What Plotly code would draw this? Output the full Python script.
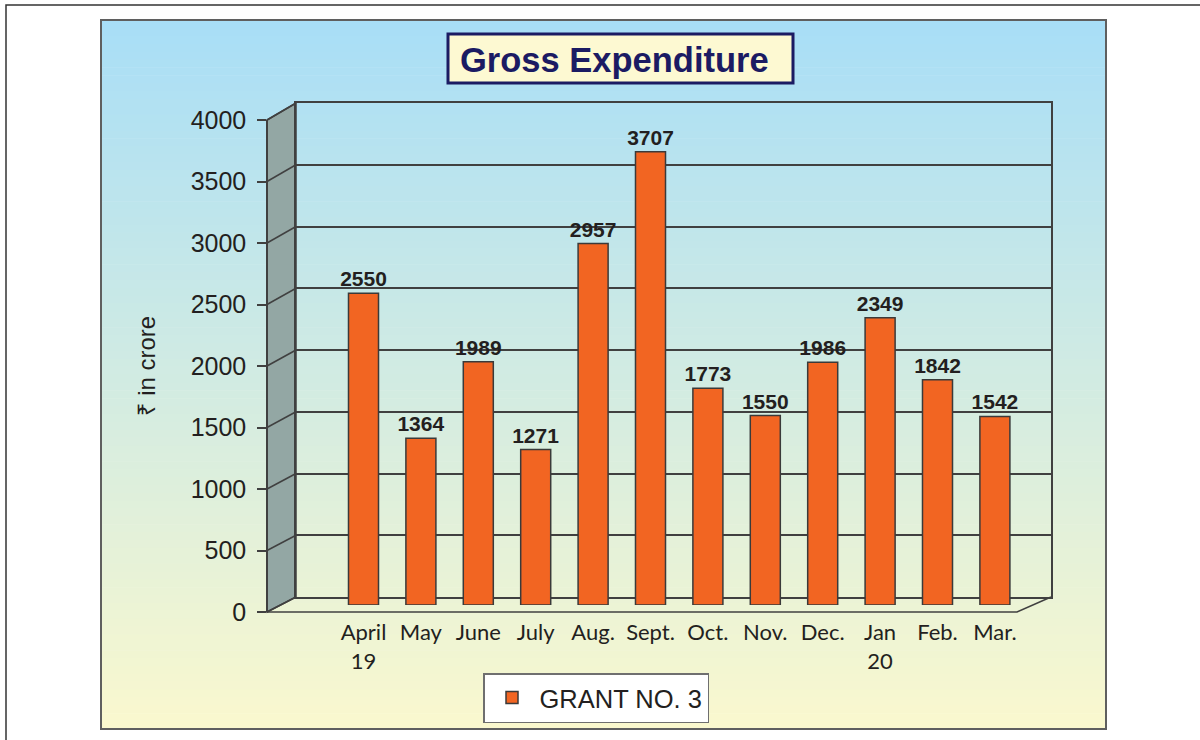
import plotly.graph_objects as go

# ---------------- data ----------------
months = ["April<br>19", "May", "June", "July", "Aug.", "Sept.", "Oct.",
          "Nov.", "Dec.", "Jan<br>20", "Feb.", "Mar."]
expenditure = [2550, 1364, 1989, 1271, 2957, 3707, 1773, 1550, 1986, 2349, 1842, 1542]
y_ticks = [0, 500, 1000, 1500, 2000, 2500, 3000, 3500, 4000]
series_name = "GRANT NO. 3"
title_text = "Gross Expenditure"
y_title = "₹ in crore"

# ---------------- geometry (pixels) ----------------
W, H = 1200, 740
def px(x): return x / W
def py(y): return 1 - y / H

YMAX = 4000
FRONT_X, FRONT_Y0, FRONT_Y1 = 267, 612, 120      # front (tick) axis
BACK_X0, BACK_X1, BACK_Y0, BACK_Y1 = 296, 1051, 597, 103   # back wall
BAR_X0, BAR_X1, BAR_Y0, BAR_Y1 = 334.8, 1023.6, 605, 116   # bar plane
FLOOR_RIGHT = 1017
PANEL = (101, 20, 1106, 729)

def front_y(v): return FRONT_Y0 + (FRONT_Y1 - FRONT_Y0) * v / YMAX
def back_y(v): return BACK_Y0 + (BACK_Y1 - BACK_Y0) * v / YMAX

LINE = "#404040"
BAR_COLOR = "#F26522"
TEXT = "#231F20"

shapes = []
# gradient background of panel
top_c = (168, 222, 247)
bot_c = (250, 248, 206)
n = 90
x0, y0, x1, y1 = PANEL
for i in range(n):
    t = (i + 0.5) / n
    c = tuple(round(top_c[k] + (bot_c[k] - top_c[k]) * t) for k in range(3))
    ya = y0 + (y1 - y0) * i / n
    yb = y0 + (y1 - y0) * (i + 1) / n + 0.6
    shapes.append(dict(type="rect", xref="paper", yref="paper", layer="below",
                       x0=px(x0), x1=px(x1), y0=py(ya), y1=py(min(yb, y1)),
                       fillcolor="rgb(%d,%d,%d)" % c, line=dict(width=0)))
# panel border
shapes.append(dict(type="rect", xref="paper", yref="paper", layer="below",
                   x0=px(x0), x1=px(x1), y0=py(y0), y1=py(y1),
                   line=dict(color="#5f5f5f", width=2)))
# outer frame
shapes.append(dict(type="rect", xref="paper", yref="paper", layer="below",
                   x0=px(6), x1=px(1215), y0=py(5), y1=py(760),
                   line=dict(color="#333333", width=1.5)))
# side wall
side_path = "M {a},{b} L {c},{d} L {c},{e} L {a},{f} Z".format(
    a=px(FRONT_X), b=py(front_y(0)), c=px(BACK_X0), d=py(back_y(0)),
    e=py(back_y(YMAX)), f=py(front_y(YMAX)))
shapes.append(dict(type="path", xref="paper", yref="paper", layer="below",
                   path=side_path, fillcolor="#93A7A4", line=dict(color=LINE, width=1.5)))
# diagonals at each tick
for v in y_ticks:
    shapes.append(dict(type="line", xref="paper", yref="paper", layer="below",
                       x0=px(FRONT_X), y0=py(front_y(v)), x1=px(BACK_X0), y1=py(back_y(v)),
                       line=dict(color=LINE, width=1.5)))
# floor front edge
floor_path = "M {a},{b} L {c},{b} L {d},{e}".format(
    a=px(FRONT_X), b=py(front_y(0)), c=px(FLOOR_RIGHT), d=px(BACK_X1), e=py(back_y(0)))
shapes.append(dict(type="path", xref="paper", yref="paper", layer="below",
                   path=floor_path, line=dict(color=LINE, width=1.5)))
# title box
shapes.append(dict(type="rect", xref="paper", yref="paper", layer="below",
                   x0=px(448), x1=px(793), y0=py(34), y1=py(83),
                   fillcolor="#FDF9D2", line=dict(color="#1B1B63", width=3)))

fig = go.Figure()
# back wall subplot (grid)
fig.add_trace(go.Scatter(x=[], y=[], xaxis="x", yaxis="y", showlegend=False, hoverinfo="skip"))
# bars
fig.add_trace(go.Bar(x=months, y=expenditure, xaxis="x2", yaxis="y2", name=series_name,
                     marker=dict(color=BAR_COLOR, line=dict(color="#3a3a3a", width=1.5)),
                     text=[str(v) for v in expenditure], textposition="outside",
                     constraintext="none", cliponaxis=False,
                     textfont=dict(family="Liberation Sans, Arial", size=21, color=TEXT, weight="bold"),
                     hoverinfo="x+y"))
# front tick axis
fig.add_trace(go.Scatter(x=[], y=[], xaxis="x2", yaxis="y3", showlegend=False, hoverinfo="skip"))

fig.update_layout(
    width=W, height=H, margin=dict(l=0, r=0, t=0, b=0, pad=0, autoexpand=False),
    paper_bgcolor="white", plot_bgcolor="rgba(0,0,0,0)",
    shapes=shapes, bargap=0.477,
    font=dict(family="Liberation Sans, Arial", color=TEXT),
    title=dict(text="<b>" + title_text + "</b>", x=px(460), y=py(60), xanchor="left",
               yanchor="middle", xref="paper", yref="paper",
               font=dict(family="Liberation Sans, Arial", size=34.5, color="#1B1B63")),
    xaxis=dict(domain=[px(BACK_X0), px(BACK_X1)], range=[0, 1], showgrid=False, zeroline=False,
               showticklabels=False, ticks="", showline=True, mirror=True,
               linecolor=LINE, linewidth=1.5, fixedrange=True, automargin=False),
    yaxis=dict(domain=[py(BACK_Y0), py(BACK_Y1)], range=[0, YMAX], tickvals=y_ticks,
               showgrid=True, gridcolor=LINE, gridwidth=1.5, zeroline=False,
               showticklabels=False, ticks="", showline=True, mirror=True,
               linecolor=LINE, linewidth=1.5, fixedrange=True, automargin=False),
    xaxis2=dict(domain=[px(BAR_X0), px(BAR_X1)], anchor="y2", showgrid=False, zeroline=False,
                showline=False, ticks="", ticklabelstandoff=12,
                tickfont=dict(family="Lato, Liberation Sans", size=22, color=TEXT),
                fixedrange=True, automargin=False),
    yaxis2=dict(domain=[py(BAR_Y0), py(BAR_Y1)], range=[0, YMAX], anchor="x2",
                visible=False, fixedrange=True, automargin=False),
    yaxis3=dict(domain=[py(FRONT_Y0), py(FRONT_Y1)], range=[0, YMAX], tickvals=y_ticks,
                anchor="free", position=px(FRONT_X), side="left",
                showgrid=False, zeroline=False, showline=True, linecolor=LINE, linewidth=1.5,
                ticks="outside", ticklen=9, tickwidth=1.5, tickcolor=LINE,
                ticklabelstandoff=6, automargin=False,
                tickfont=dict(family="Liberation Sans, Arial", size=25, color=TEXT),
                title=dict(text=y_title, standoff=27,
                           font=dict(family="Liberation Sans, Noto Sans, Arial", size=24, color=TEXT)),
                fixedrange=True),
    showlegend=True,
    legend=dict(x=px(483), y=py(673), xanchor="left", yanchor="top", itemwidth=45,
                bgcolor="white", bordercolor="#6f6f6f", borderwidth=1.5,
                font=dict(family="Liberation Sans, Arial", size=25.5, color=TEXT),
                itemclick=False, itemdoubleclick=False),
)

fig.write_html("out.html", config={"displayModeBar": False},
               post_script="document.body.style.margin='0';document.body.style.padding='0';")
